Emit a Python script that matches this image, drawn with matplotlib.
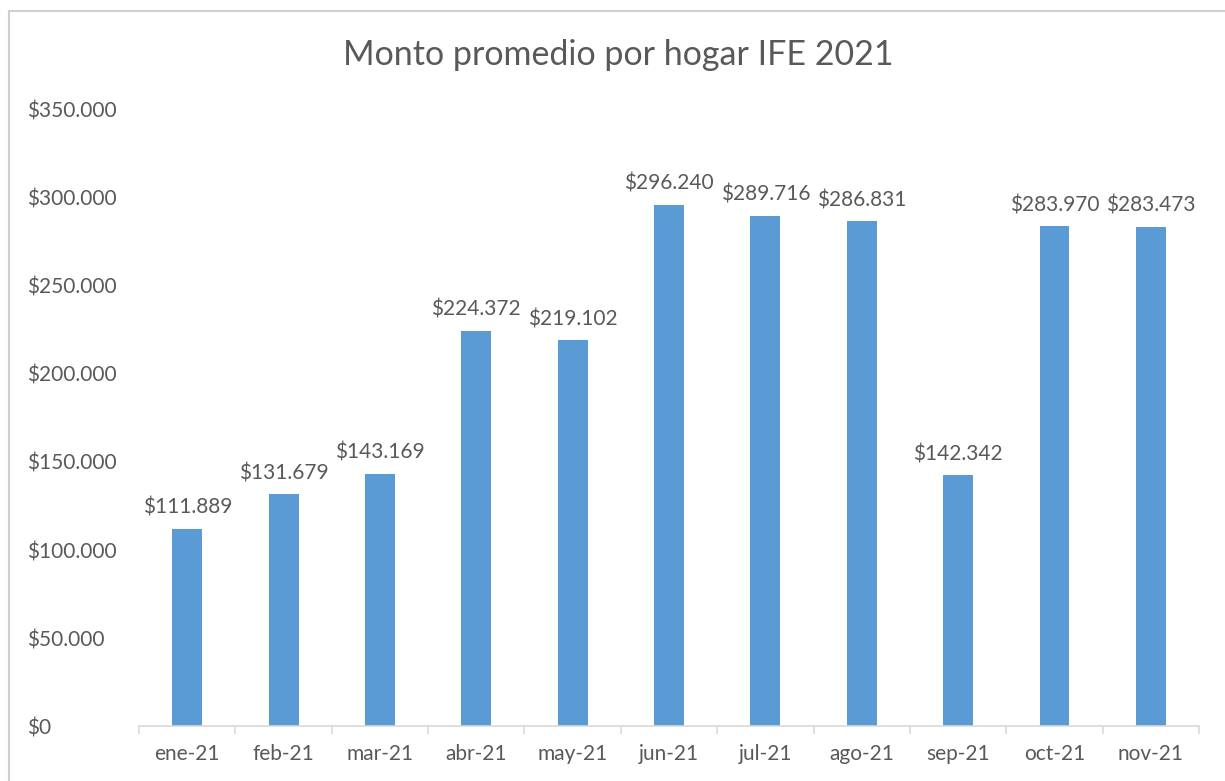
import matplotlib.pyplot as plt
import matplotlib.patches as patches
from matplotlib.ticker import FuncFormatter, FixedLocator
import numpy as np

plt.rcParams['font.family'] = ['Lato', 'DejaVu Sans']

meses = ['ene-21', 'feb-21', 'mar-21', 'abr-21', 'may-21', 'jun-21',
         'jul-21', 'ago-21', 'sep-21', 'oct-21', 'nov-21']
montos = [111889, 131679, 143169, 224372, 219102, 296240,
          289716, 286831, 142342, 283970, 283473]

texto = '#595959'
azul = '#5B9BD5'


def pesos(v, pos=None):
    return '$' + f'{int(v):,}'.replace(',', '.')


fig = plt.figure(figsize=(12.25, 7.81), dpi=100)
ax = fig.add_axes([0.1135, 0.0704, 0.8653, 0.7888])

x = np.arange(len(meses))
ax.bar(x, montos, width=0.31, color=azul, zorder=2)

for xi, v in zip(x, montos):
    ax.annotate(pesos(v), (xi, v), xytext=(0, 8), textcoords='offset points',
                ha='center', va='bottom', fontsize=15, color=texto)

ax.set_xlim(-0.5, len(meses) - 0.5)
ax.set_ylim(0, 350000)
ax.set_yticks(np.arange(0, 350001, 50000))
ax.yaxis.set_major_formatter(FuncFormatter(pesos))
ax.set_xticks(x)
ax.set_xticklabels(meses)
ax.xaxis.set_minor_locator(FixedLocator(np.arange(-0.5, len(meses), 1)))

for s in ['top', 'right', 'left']:
    ax.spines[s].set_visible(False)
ax.spines['bottom'].set_color('#D9D9D9')
ax.spines['bottom'].set_linewidth(1.2)

ax.tick_params(axis='y', length=0, labelsize=15, labelcolor=texto, pad=81)
ax.tick_params(axis='x', which='major', length=0, labelsize=15,
               labelcolor=texto, pad=13)
ax.tick_params(axis='x', which='minor', length=6, width=1.2,
               color='#D9D9D9', direction='out')
for lbl in ax.get_yticklabels():
    lbl.set_horizontalalignment('left')

fig.text(0.5045, 0.93, 'Monto promedio por hogar IFE 2021', ha='center',
         va='center', fontsize=24.5, color=texto)

borde = patches.Rectangle((9 / 1225, -0.05), 1.2, 1 - 11 / 781 + 0.05,
                          transform=fig.transFigure, fill=False,
                          edgecolor='#D0D0D0', linewidth=1.5)
fig.add_artist(borde)

plt.savefig('out.png', dpi=100)
